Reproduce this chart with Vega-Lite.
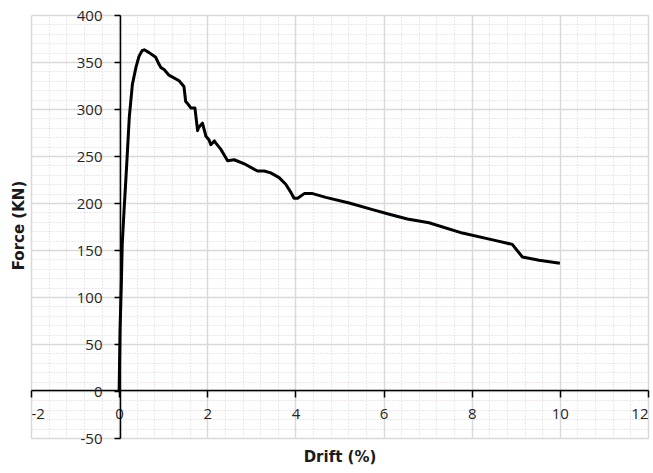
{
  "$schema": "https://vega.github.io/schema/vega-lite/v6.json",
  "width": 617,
  "height": 423,
  "autosize": "none",
  "padding": {"left": 31, "top": 15, "right": 5, "bottom": 35},
  "background": "white",
  "config": {"view": {"stroke": null}, "font": "Open Sans"},
  "data": {"values": [
    {"drift": 0, "force": 0},
    {"drift": 0.02, "force": 64},
    {"drift": 0.05, "force": 114},
    {"drift": 0.07, "force": 156},
    {"drift": 0.11, "force": 191},
    {"drift": 0.15, "force": 223},
    {"drift": 0.18, "force": 248},
    {"drift": 0.23, "force": 291},
    {"drift": 0.30, "force": 326},
    {"drift": 0.38, "force": 344},
    {"drift": 0.45, "force": 356},
    {"drift": 0.52, "force": 362},
    {"drift": 0.57, "force": 363},
    {"drift": 0.68, "force": 360},
    {"drift": 0.83, "force": 355},
    {"drift": 0.90, "force": 348},
    {"drift": 0.95, "force": 344},
    {"drift": 1.02, "force": 342},
    {"drift": 1.13, "force": 336},
    {"drift": 1.36, "force": 330},
    {"drift": 1.47, "force": 324},
    {"drift": 1.51, "force": 308},
    {"drift": 1.55, "force": 306},
    {"drift": 1.63, "force": 301},
    {"drift": 1.72, "force": 301},
    {"drift": 1.78, "force": 277},
    {"drift": 1.80, "force": 280},
    {"drift": 1.89, "force": 285},
    {"drift": 1.97, "force": 271},
    {"drift": 2.04, "force": 267},
    {"drift": 2.08, "force": 262},
    {"drift": 2.16, "force": 266},
    {"drift": 2.19, "force": 264},
    {"drift": 2.31, "force": 257},
    {"drift": 2.46, "force": 245},
    {"drift": 2.61, "force": 246},
    {"drift": 2.87, "force": 241},
    {"drift": 3.14, "force": 234},
    {"drift": 3.29, "force": 234},
    {"drift": 3.44, "force": 232},
    {"drift": 3.63, "force": 227},
    {"drift": 3.78, "force": 220},
    {"drift": 3.90, "force": 211},
    {"drift": 3.97, "force": 205},
    {"drift": 4.05, "force": 205},
    {"drift": 4.20, "force": 210},
    {"drift": 4.39, "force": 210},
    {"drift": 4.69, "force": 206},
    {"drift": 5.22, "force": 200},
    {"drift": 5.75, "force": 193},
    {"drift": 6.13, "force": 188},
    {"drift": 6.54, "force": 183},
    {"drift": 7.03, "force": 179},
    {"drift": 7.79, "force": 168},
    {"drift": 8.55, "force": 160},
    {"drift": 8.92, "force": 156},
    {"drift": 9.04, "force": 149},
    {"drift": 9.15, "force": 142.5},
    {"drift": 9.53, "force": 139},
    {"drift": 10.0, "force": 136}
  ]},
  "layer": [
    {
      "mark": {"type": "line", "opacity": 0},
      "encoding": {
        "x": {"field": "drift", "type": "quantitative",
          "axis": {"orient": "top", "title": null, "labels": false, "ticks": false, "domain": false,
            "grid": true, "gridColor": "#dccfdc", "gridDash": [1, 2], "gridWidth": 1,
            "values": [-2,-1.6,-1.2,-0.8,-0.4,0,0.4,0.8,1.2,1.6,2,2.4,2.8,3.2,3.6,4,4.4,4.8,5.2,5.6,6,6.4,6.8,7.2,7.6,8,8.4,8.8,9.2,9.6,10,10.4,10.8,11.2,11.6,12]}},
        "y": {"field": "force", "type": "quantitative",
          "axis": {"orient": "right", "title": null, "labels": false, "ticks": false, "domain": false,
            "grid": true, "gridColor": "#dccfdc", "gridDash": [1, 2], "gridWidth": 1,
            "values": [-50,-40,-30,-20,-10,0,10,20,30,40,50,60,70,80,90,100,110,120,130,140,150,160,170,180,190,200,210,220,230,240,250,260,270,280,290,300,310,320,330,340,350,360,370,380,390,400]}}
      }
    },
    {
      "mark": {"type": "line", "color": "black", "strokeWidth": 3, "strokeJoin": "round"},
      "encoding": {
        "x": {"field": "drift", "type": "quantitative",
          "scale": {"domain": [-2, 12], "nice": false, "zero": false},
          "axis": {"orient": "bottom", "offset": -48, "title": "Drift (%)",
            "values": [-2, 0, 2, 4, 6, 8, 10, 12],
            "labelExpr": "'' + datum.value",
            "grid": true, "gridColor": "#d9d9d9", "gridWidth": 1.5,
            "domainColor": "black", "domainWidth": 1.5, "tickColor": "black", "tickSize": 7, "tickWidth": 1.5,
            "labelFont": "Open Sans", "labelFontSize": 15, "labelColor": "#262626", "labelPadding": 9,
            "titleFont": "DejaVu Sans", "titleFontSize": 15, "titleFontWeight": "bold", "titleColor": "#1a1a1a",
            "titleY": 66, "titleBaseline": "middle"}},
        "y": {"field": "force", "type": "quantitative",
          "scale": {"domain": [-50, 400], "nice": false, "zero": false},
          "axis": {"orient": "left", "offset": -89, "title": "Force (KN)",
            "values": [-50, 0, 50, 100, 150, 200, 250, 300, 350, 400],
            "labelExpr": "'' + datum.value",
            "grid": true, "gridColor": "#d9d9d9", "gridWidth": 1.5,
            "domainColor": "black", "domainWidth": 1.5, "tickColor": "black", "tickSize": 6, "tickWidth": 1.5,
            "labelFont": "Open Sans", "labelFontSize": 15, "labelColor": "#262626", "labelPadding": 12,
            "titleFont": "DejaVu Sans", "titleFontSize": 15, "titleFontWeight": "bold", "titleColor": "#1a1a1a",
            "titleX": -102, "titleY": 210, "titleBaseline": "middle"}}
      }
    }
  ],
  "resolve": {"axis": {"x": "independent", "y": "independent"}}
}
